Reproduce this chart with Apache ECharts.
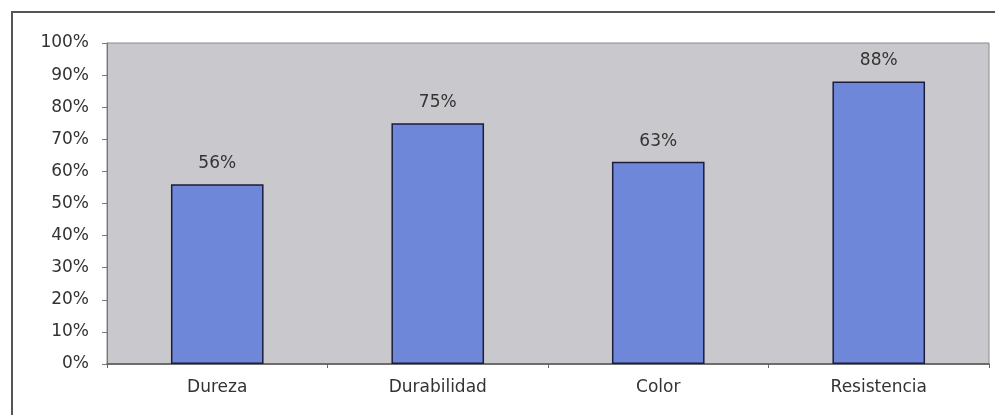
<!DOCTYPE html>
<html><head><meta charset="utf-8">
<script src="https://cdn.jsdelivr.net/npm/echarts@6/dist/echarts.min.js"></script>
<style>html,body{margin:0;padding:0;background:#fff}#c{width:995px;height:415px}</style>
</head><body><div id="c"></div>
<script>
const categories = ['Dureza', 'Durabilidad', 'Color', 'Resistencia'];
const values = [0.56, 0.75, 0.63, 0.88];
const yTicks = [0, 0.1, 0.2, 0.3, 0.4, 0.5, 0.6, 0.7, 0.8, 0.9, 1.0];

const chart = echarts.init(document.getElementById('c'));
const font = '"DejaVu Sans", Verdana, sans-serif';
chart.setOption({
  animation: false,
  graphic: [{
    type: 'rect', shape: {x: 12, y: 12, width: 1000, height: 420},
    style: {fill: 'none', stroke: '#555', lineWidth: 2}, z: -10
  }],
  grid: {left: 107, right: 6, top: 43, bottom: 51, show: true,
    backgroundColor: '#c9c9cd', borderColor: '#8a8a8a', borderWidth: 1},
  xAxis: {
    type: 'category', data: categories,
    axisLine: {lineStyle: {color: '#555', width: 1.5}},
    axisTick: {show: true, alignWithLabel: false, length: 4, lineStyle: {color: '#666'}},
    axisLabel: {color: '#333', fontFamily: font, fontSize: 17, margin: 15}
  },
  yAxis: {
    type: 'value', min: 0, max: 1, interval: 0.1,
    axisLine: {show: true, lineStyle: {color: '#777'}},
    axisTick: {show: true, length: 5, lineStyle: {color: '#777'}},
    splitLine: {show: false},
    axisLabel: {color: '#333', fontFamily: font, fontSize: 17, margin: 18,
      formatter: v => Math.round(v * 100) + '%'}
  },
  series: [{
    type: 'bar', data: values, barWidth: '42%',
    itemStyle: {color: '#6f87d9', borderColor: '#1c1c3c', borderWidth: 1.5},
    label: {show: true, position: 'top', distance: 12, color: '#333',
      fontFamily: font, fontSize: 17,
      formatter: p => Math.round(p.value * 100) + '%'}
  }]
});
</script></body></html>
